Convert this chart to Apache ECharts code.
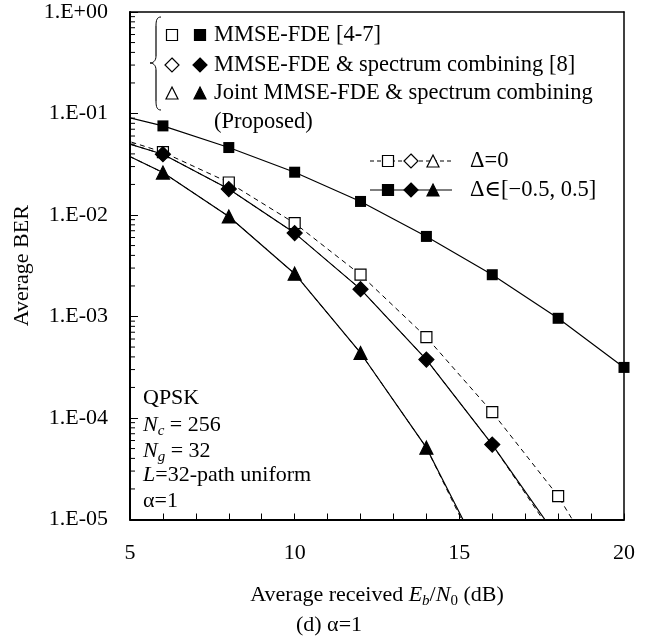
<!DOCTYPE html>
<html>
<head>
<meta charset="utf-8">
<title>Average BER vs Eb/N0</title>
<script src="https://cdn.jsdelivr.net/npm/echarts@6/dist/echarts.min.js"></script>
<style>
html, body { margin: 0; padding: 0; background: #fff; }
#main { width: 665px; height: 640px; }
</style>
</head>
<body>
<div id="main"></div>
<script>
// Eb/N0 (dB) - 4 dB point only used so the lines start at the left edge
var snr = [4, 6, 8, 10, 12, 14, 16, 18, 20];

// MMSE-FDE [4-7]
var mmseRange = [0.109, 0.0755, 0.0462, 0.0264, 0.0136, 0.00615, 0.00258, 0.00096, 0.000315];
var mmseZero  = [0.067, 0.0416, 0.0209, 0.0083, 0.00258, 0.000625, 0.000114, 0.000017, 0.00000145];
// MMSE-FDE & spectrum combining [8]
var scRange = [0.0627, 0.0397, 0.018, 0.00663, 0.00186, 0.000376, 0.0000547, 0.0000065, null];
var scZero  = [0.0627, 0.0397, 0.018, 0.00663, 0.00186, 0.000376, 0.0000547, 0.000006, null];
// Joint MMSE-FDE & spectrum combining (proposed)
var jointRange = [0.054, 0.0262, 0.00967, 0.00264, 0.000437, 0.000051, 0.0000027, null, null];
var jointZero  = [0.054, 0.0262, 0.00967, 0.00264, 0.000437, 0.000051, 0.0000024, null, null];

var xLabelValues = [5, 10, 15, 20];

var FONT = "'Liberation Serif', 'Times New Roman', 'DejaVu Serif', serif";
var BLACK = '#000';

function pairs(ys) {
  var out = [];
  for (var i = 0; i < snr.length; i++) {
    if (ys[i] != null) out.push([snr[i], ys[i]]);
  }
  return out;
}

// minor log ticks 2..9 x 10^k
var minorTicks = [];
for (var k = -5; k < 0; k++) {
  for (var m = 2; m <= 9; m++) minorTicks.push([5, m * Math.pow(10, k)]);
}

function lineSeries(name, ys, symbol, size, filled, dashed, z) {
  return {
    type: 'line',
    name: name,
    data: pairs(ys),
    symbol: symbol,
    symbolSize: size,
    showAllSymbol: true,
    clip: true,
    z: z,
    itemStyle: { color: filled ? BLACK : '#fff', borderColor: BLACK, borderWidth: filled ? 0 : 1.2 },
    lineStyle: { color: BLACK, width: dashed ? 1 : 1.2, type: dashed ? [5, 4] : 'solid' },
    emphasis: { disabled: true }
  };
}

// legend helpers (decoration only)
function sq(cx, cy, s, filled) {
  return { type: 'rect', shape: { x: cx - s / 2, y: cy - s / 2, width: s, height: s },
    style: { fill: filled ? BLACK : '#fff', stroke: BLACK, lineWidth: 1.2 }, z: 10 };
}
function dia(cx, cy, s, filled) {
  var h = s / 2;
  return { type: 'polygon', shape: { points: [[cx, cy - h], [cx + h, cy], [cx, cy + h], [cx - h, cy]] },
    style: { fill: filled ? BLACK : '#fff', stroke: BLACK, lineWidth: 1.2 }, z: 10 };
}
function tri(cx, cy, s, filled) {
  var h = s / 2;
  return { type: 'polygon', shape: { points: [[cx, cy - h], [cx + h, cy + h], [cx - h, cy + h]] },
    style: { fill: filled ? BLACK : '#fff', stroke: BLACK, lineWidth: 1.2 }, z: 10 };
}
function txt(x, y, text, rich, align, size) {
  return { type: 'text', x: x, y: y, z: 10,
    style: { text: text, rich: rich, fill: BLACK, font: (size || 22) + 'px ' + FONT,
      align: align || 'left', verticalAlign: 'middle' } };
}
function bez(x1, y1, c1x, c1y, c2x, c2y, x2, y2) {
  return { type: 'bezierCurve', z: 10,
    shape: { x1: x1, y1: y1, cpx1: c1x, cpy1: c1y, cpx2: c2x, cpy2: c2y, x2: x2, y2: y2 },
    style: { stroke: BLACK, lineWidth: 1, fill: null } };
}
function seg(x1, y1, x2, y2, dash) {
  return { type: 'line', z: 9, shape: { x1: x1, y1: y1, x2: x2, y2: y2 },
    style: { stroke: BLACK, lineWidth: dash ? 1 : 1.2, lineDash: dash ? [4, 3] : null } };
}

var richText = {
  t: { fontSize: 22, fontFamily: FONT, color: BLACK },
  i: { fontSize: 22, fontFamily: FONT, color: BLACK, fontStyle: 'italic' },
  s: { fontSize: 15, fontFamily: FONT, color: BLACK, padding: [12, 0, 0, 0] },
  si: { fontSize: 15, fontFamily: FONT, color: BLACK, fontStyle: 'italic', padding: [12, 0, 0, 0] }
};

var legendRows = [
  { y: 35, shape: sq, size: 11, label: 'MMSE-FDE [4-7]' },
  { y: 65, shape: dia, size: 14, label: 'MMSE-FDE & spectrum combining [8]' },
  { y: 93, shape: tri, size: 12, label: 'Joint MMSE-FDE & spectrum combining' }
];

var graphics = [];
legendRows.forEach(function (r) {
  graphics.push(r.shape(172, r.y, r.size, false));
  graphics.push(r.shape(200, r.y, r.size, true));
  graphics.push(txt(214, r.y, r.label, null, 'left', 22.5));
});
graphics.push(txt(214, 122, '(Proposed)', null, 'left', 22.5));
// brace
graphics.push(bez(161, 17, 157, 17, 156, 20, 156, 26));
graphics.push(seg(156, 26, 156, 56));
graphics.push(bez(156, 56, 156, 61, 153, 63, 150, 63));
graphics.push(bez(150, 63, 153, 63, 156, 65, 156, 70));
graphics.push(seg(156, 70, 156, 101));
graphics.push(bez(156, 101, 156, 107, 157, 110, 161, 110));

// delta legend
graphics.push(seg(370, 161, 452, 161, true));
graphics.push(sq(388, 161, 11, false));
graphics.push(dia(411, 161, 14, false));
graphics.push(tri(433, 161, 12, false));
graphics.push(txt(470, 161, '\u0394=0', null, 'left', 22.5));
graphics.push(seg(370, 190, 452, 190, false));
graphics.push(sq(388, 190, 11, true));
graphics.push(dia(411, 190, 14, true));
graphics.push(tri(433, 190, 12, true));
graphics.push(txt(470, 190, '\u0394\u2208[\u22120.5, 0.5]', null, 'left', 22.5));

// parameters
graphics.push(txt(143, 398, 'QPSK'));
graphics.push(txt(143, 425, '{i|N}{si|c}{t| = 256}', richText));
graphics.push(txt(143, 451, '{i|N}{si|g}{t| = 32}', richText));
graphics.push(txt(143, 475, '{i|L}{t|=32-path uniform}', richText));
graphics.push(txt(143, 501, '\u03b1=1'));
// caption
graphics.push(txt(329, 625, '(d) \u03b1=1', null, 'center'));

var chart = echarts.init(document.getElementById('main'));
chart.setOption({
  animation: false,
  backgroundColor: '#fff',
  grid: { left: 130, right: 41, top: 12, bottom: 120.5, containLabel: false, outerBoundsMode: 'none' },
  xAxis: [{
    type: 'value', min: 5, max: 20, interval: 1, position: 'bottom',
    axisLine: { onZero: false, lineStyle: { color: BLACK, width: 2 } },
    axisTick: { inside: true, length: 6, lineStyle: { color: BLACK, width: 1 } },
    axisLabel: {
      margin: 23, fontSize: 22, fontFamily: FONT, color: BLACK, showMinLabel: true, showMaxLabel: true,
      formatter: function (v) { return xLabelValues.indexOf(v) >= 0 ? String(v) : ''; }
    },
    splitLine: { show: false },
    name: '{t|Average received }{i|E}{si|b}{t|/}{i|N}{s|0}{t| (dB)}',
    nameLocation: 'middle', nameGap: 62,
    nameTextStyle: { rich: richText }
  }, {
    type: 'value', min: 5, max: 20, position: 'top',
    axisLine: { onZero: false, lineStyle: { color: BLACK, width: 1.5 } },
    axisTick: { show: false }, axisLabel: { show: false }, splitLine: { show: false }
  }],
  yAxis: [{
    type: 'log', logBase: 10, min: 0.00001, max: 1,
    axisLine: { onZero: false, lineStyle: { color: BLACK, width: 2 } },
    axisTick: { inside: true, length: 8, lineStyle: { color: BLACK, width: 1 } },
    axisLabel: {
      margin: 22, fontSize: 22, fontFamily: FONT, color: BLACK,
      formatter: function (v) {
        var e = Math.round(Math.log10(v));
        var a = Math.abs(e);
        return '1.E' + (e >= 0 ? '+' : '-') + (a < 10 ? '0' : '') + a;
      }
    },
    splitLine: { show: false },
    name: 'Average BER', nameLocation: 'middle', nameGap: 82, nameRotate: 90,
    nameTextStyle: { fontSize: 22, fontFamily: FONT, color: BLACK }
  }, {
    type: 'value', min: 0, max: 1, position: 'right',
    axisLine: { onZero: false, lineStyle: { color: BLACK, width: 1.5 } },
    axisTick: { show: false }, axisLabel: { show: false }, splitLine: { show: false }
  }],
  series: [
    {
      type: 'custom', coordinateSystem: 'cartesian2d', silent: true, clip: false, z: 1,
      data: minorTicks,
      renderItem: function (params, api) {
        var p = api.coord([api.value(0), api.value(1)]);
        return { type: 'line', shape: { x1: p[0], y1: p[1], x2: p[0] + 5, y2: p[1] },
          style: { stroke: BLACK, lineWidth: 1 } };
      }
    },
    lineSeries('MMSE-FDE \u0394=0', mmseZero, 'rect', 11, false, true, 2),
    lineSeries('SC \u0394=0', scZero, 'diamond', 15, false, true, 2),
    lineSeries('Joint \u0394=0', jointZero, 'triangle', 13, false, true, 2),
    lineSeries('MMSE-FDE \u0394 range', mmseRange, 'rect', 11, true, false, 3),
    lineSeries('SC \u0394 range', scRange, 'diamond', 15, true, false, 3),
    lineSeries('Joint \u0394 range', jointRange, 'triangle', 13, true, false, 3)
  ],
  graphic: { elements: graphics }
});
window.onresize = chart.resize;
</script>
</body>
</html>
